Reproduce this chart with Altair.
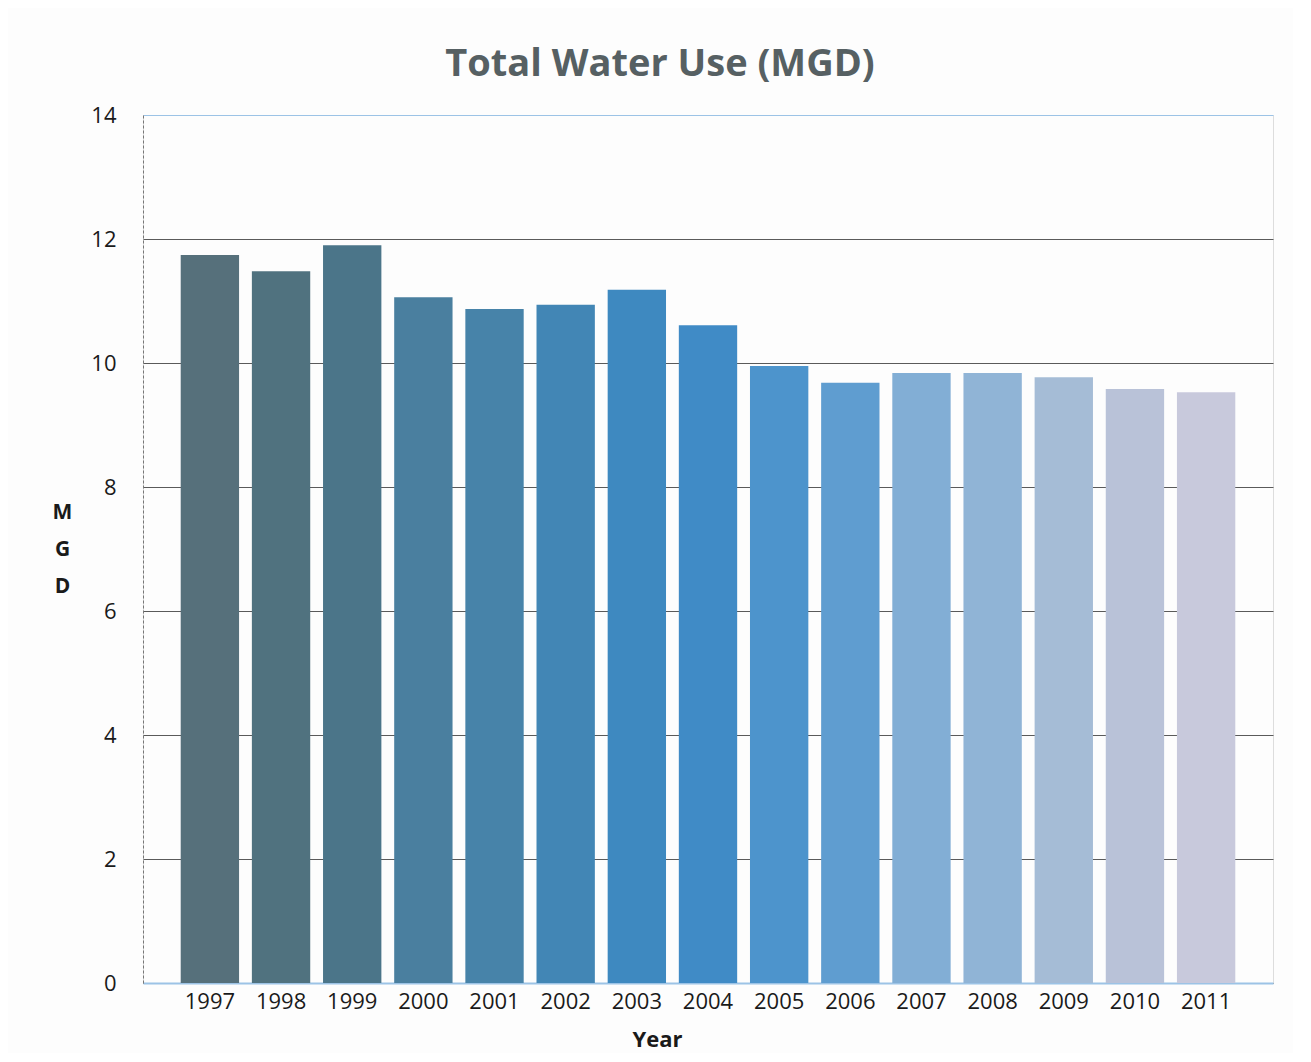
import altair as alt
import pandas as pd

years = ["1997", "1998", "1999", "2000", "2001", "2002", "2003", "2004",
         "2005", "2006", "2007", "2008", "2009", "2010", "2011"]
mgd = [11.74, 11.48, 11.9, 11.06, 10.87, 10.94, 11.18, 10.61,
       9.95, 9.68, 9.84, 9.84, 9.77, 9.58, 9.53]

palette = ["#56707b", "#50727f", "#4b7589", "#4a7f9f", "#4783a9", "#4286b5",
           "#3e89c0", "#408bc6", "#4d94cc", "#5f9dd0", "#82aed5", "#90b4d6",
           "#a5bcd6", "#b9c2d8", "#c8c9dc"]

df = pd.DataFrame({"Year": years, "MGD": mgd})

font = "Open Sans"

chart = (
    alt.Chart(df)
    .mark_bar()
    .encode(
        x=alt.X(
            "Year:N",
            sort=years,
            scale=alt.Scale(paddingInner=0.18, paddingOuter=0.53),
            axis=alt.Axis(
                title="Year",
                titleFont=font,
                titleFontSize=22,
                titleFontWeight="bold",
                titleColor="#1a1a1a",
                titleX=514,
                titleY=56,
                titleBaseline="middle",
                titleAnchor="start",
                titleAlign="center",
                labelAngle=0,
                labelFont=font,
                labelFontSize=22,
                labelColor="#1a1a1a",
                labelPadding=8,
                ticks=False,
                domainColor="#9cc3e6",
                domainWidth=2,
                grid=False,
            ),
        ),
        y=alt.Y(
            "MGD:Q",
            scale=alt.Scale(domain=[0, 14], nice=False),
            axis=alt.Axis(
                values=[0, 2, 4, 6, 8, 10, 12, 14],
                title=["M", "G", "D"],
                titleAngle=0,
                titleFont=font,
                titleFontSize=21,
                titleFontWeight="bold",
                titleColor="#1a1a1a",
                titleX=-81,
                titleY=386,
                titleAlign="center",
                titleBaseline="top",
                titleLineHeight=37,
                labelFont=font,
                labelFontSize=22,
                labelColor="#1a1a1a",
                labelPadding=27,
                ticks=False,
                domainColor="#777777",
                domainDash=[3, 2],
                gridColor=alt.condition("datum.value == 14", alt.value("#9cc3e6"), alt.value("#5a5a5a")),
                gridWidth=1,
            ),
        ),
        color=alt.Color(
            "Year:N",
            scale=alt.Scale(domain=years, range=palette),
            legend=None,
        ),
    )
    .properties(
        width=1130,
        height=868,
        title=alt.TitleParams(
            "Total Water Use (MGD)",
            font=font,
            fontSize=38,
            fontWeight="bold",
            color="#566063",
            anchor="middle",
            dx=-48,
            offset=20,
        ),
        autosize=alt.AutoSizeParams(type="none"),
        padding={"left": 135, "top": 107, "right": 20, "bottom": 70},
    )
    .configure_view(stroke="#9cc3e6", strokeWidth=2)
    .configure(background="#fdfdfd")
)

chart.save("out.html", embed_options={"renderer": "svg", "actions": False})
